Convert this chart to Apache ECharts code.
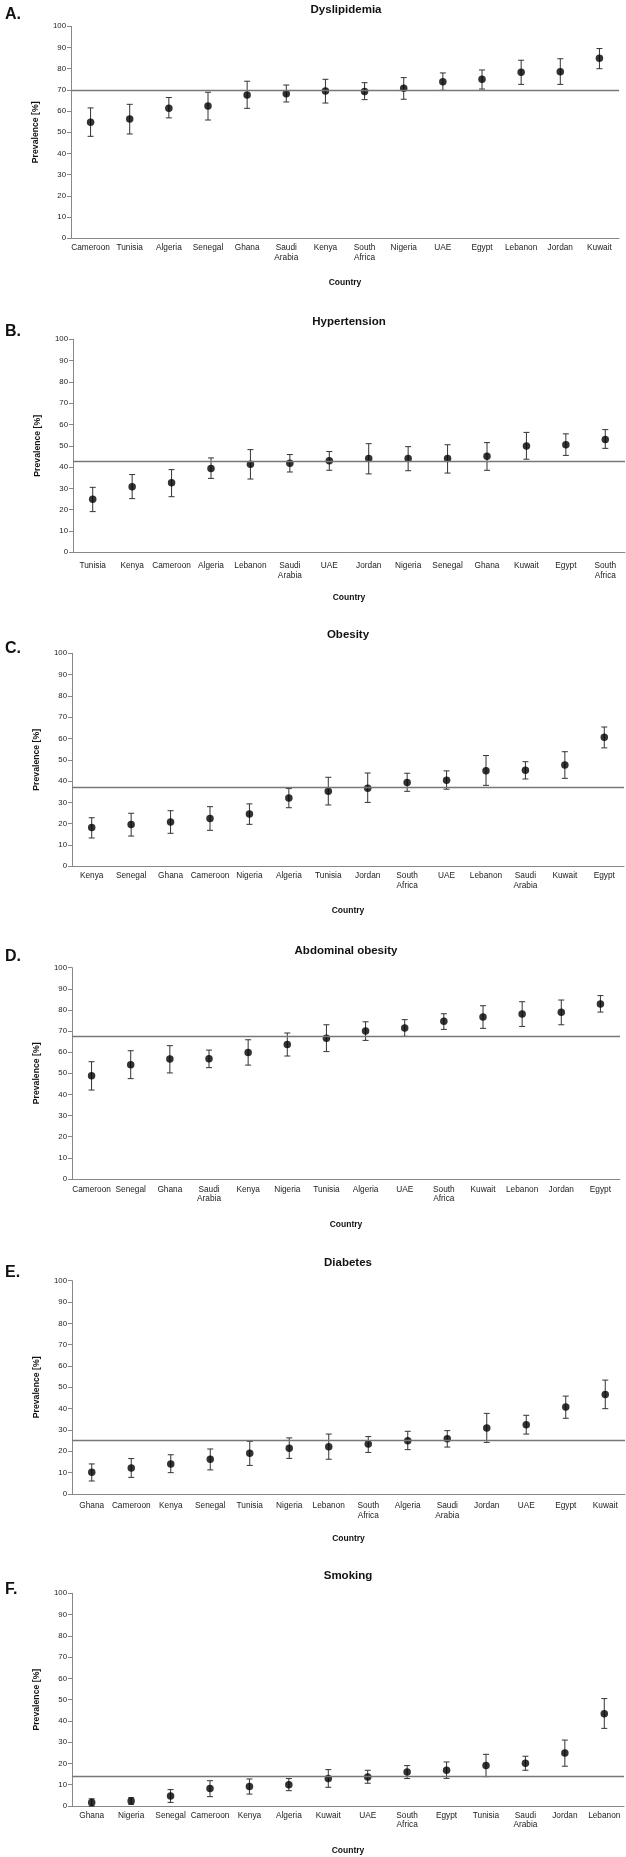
<!DOCTYPE html>
<html><head><meta charset="utf-8">
<script src="https://cdn.jsdelivr.net/npm/echarts@6/dist/echarts.min.js"></script>
<style>html,body{margin:0;padding:0;background:#fff}#c{width:626px;height:1857px}</style>
</head><body><div id="c"></div>
<script>
// ---- Data ----
const panelLetters = ['A.', 'B.', 'C.', 'D.', 'E.', 'F.'];
const panelTitles = ['Dyslipidemia', 'Hypertension', 'Obesity', 'Abdominal obesity', 'Diabetes', 'Smoking'];

const dysCountries = ['Cameroon','Tunisia','Algeria','Senegal','Ghana','Saudi Arabia','Kenya','South Africa','Nigeria','UAE','Egypt','Lebanon','Jordan','Kuwait'];
const dysValues = [54.7,56.3,61.3,62.4,67.6,68.2,69.5,69.3,70.8,73.9,75.0,78.3,78.6,84.9];
const dysLow    = [48.1,49.2,56.8,55.8,61.3,64.3,63.8,65.4,65.6,69.8,70.4,72.6,72.6,80.0];
const dysHigh   = [61.5,63.2,66.4,68.9,74.1,72.3,75.0,73.4,75.8,78.0,79.4,84.0,84.7,89.5];
const dysPooled = 69.8;

const htnCountries = ['Tunisia','Kenya','Cameroon','Algeria','Lebanon','Saudi Arabia','UAE','Jordan','Nigeria','Senegal','Ghana','Kuwait','Egypt','South Africa'];
const htnValues = [24.9,30.8,32.6,39.4,41.3,41.8,43.0,44.0,44.0,44.0,45.1,49.9,50.5,53.0];
const htnLow    = [19.1,25.2,26.1,34.7,34.4,37.7,38.5,36.8,38.3,37.2,38.5,43.7,45.5,48.8];
const htnHigh   = [30.5,36.5,38.8,44.3,48.2,45.9,47.3,51.0,49.6,50.5,51.5,56.3,55.6,57.6];
const htnPooled = 42.7;

const obCountries = ['Kenya','Senegal','Ghana','Cameroon','Nigeria','Algeria','Tunisia','Jordan','South Africa','UAE','Lebanon','Saudi Arabia','Kuwait','Egypt'];
const obValues = [18.2,19.6,20.8,22.5,24.6,32.1,35.2,36.6,39.4,40.4,44.9,45.1,47.6,60.6];
const obLow    = [13.3,14.2,15.5,16.9,19.7,27.5,28.8,30.0,35.2,36.2,38.0,41.0,41.3,55.6];
const obHigh   = [22.8,24.9,26.1,28.0,29.3,36.5,41.8,43.8,43.7,44.8,52.0,49.1,53.8,65.4];
const obPooled = 37.1;

const abCountries = ['Cameroon','Senegal','Ghana','Saudi Arabia','Kenya','Nigeria','Tunisia','Algeria','UAE','South Africa','Kuwait','Lebanon','Jordan','Egypt'];
const abValues = [48.9,54.1,56.8,56.9,59.9,63.7,66.6,70.0,71.5,74.6,76.7,78.1,78.9,82.8];
const abLow    = [42.1,47.5,50.2,52.7,53.9,58.2,60.3,65.6,67.5,70.8,71.3,72.2,73.0,79.0];
const abHigh   = [55.5,60.7,63.1,61.0,65.9,69.1,73.0,74.4,75.4,78.2,82.0,83.9,84.7,86.8];
const abPooled = 67.5;

const diaCountries = ['Ghana','Cameroon','Kenya','Senegal','Tunisia','Nigeria','Lebanon','South Africa','Algeria','Saudi Arabia','Jordan','UAE','Egypt','Kuwait'];
const diaValues = [10.2,12.2,14.1,16.3,19.1,21.4,22.2,23.4,25.0,25.9,30.9,32.5,40.8,46.7];
const diaLow    = [6.1,7.8,10.0,11.3,13.4,16.7,16.3,19.5,20.8,22.0,24.2,28.1,35.5,40.0];
const diaHigh   = [14.1,16.6,18.4,21.1,24.7,26.3,28.1,26.9,29.4,29.7,37.8,36.9,45.9,53.4];
const diaPooled = 25.2;

const smkCountries = ['Ghana','Nigeria','Senegal','Cameroon','Kenya','Algeria','Kuwait','UAE','South Africa','Egypt','Tunisia','Saudi Arabia','Jordan','Lebanon'];
const smkValues = [1.7,2.4,4.7,8.2,9.2,10.0,12.9,13.6,16.0,16.8,19.0,20.1,24.9,43.4];
const smkLow    = [0.0,0.8,1.7,4.4,5.6,7.2,8.8,10.7,12.9,13.0,13.8,16.8,18.7,36.5];
const smkHigh   = [3.4,3.9,7.7,11.9,12.7,12.9,17.1,16.8,19.0,20.7,24.3,23.4,31.0,50.5];
const smkPooled = 14.1;

const yTicks = [0,10,20,30,40,50,60,70,80,90,100];

const panels = [
  {cats: dysCountries, v: dysValues, lo: dysLow, hi: dysHigh, pooled: dysPooled},
  {cats: htnCountries, v: htnValues, lo: htnLow, hi: htnHigh, pooled: htnPooled},
  {cats: obCountries,  v: obValues,  lo: obLow,  hi: obHigh,  pooled: obPooled},
  {cats: abCountries,  v: abValues,  lo: abLow,  hi: abHigh,  pooled: abPooled},
  {cats: diaCountries, v: diaValues, lo: diaLow, hi: diaHigh, pooled: diaPooled},
  {cats: smkCountries, v: smkValues, lo: smkLow, hi: smkHigh, pooled: smkPooled}
];

// ---- Layout ----
const layout = [
  {left: 71, right: 619, top: 26.3,   height: 212,   tx: 346, ty: 10,     ly: 8,    labGap: 5,  country: 278},
  {left: 73, right: 625, top: 339.3,  height: 213,   tx: 349, ty: 322.7,  ly: 325,  labGap: 9,  country: 593},
  {left: 72, right: 624, top: 653.3,  height: 213,   tx: 348, ty: 635,    ly: 642,  labGap: 5,  country: 906.5},
  {left: 72, right: 620, top: 967.7,  height: 211.3, tx: 346, ty: 951,    ly: 950,  labGap: 5.5,country: 1220},
  {left: 72, right: 625, top: 1280.7, height: 213.3, tx: 348, ty: 1263.7, ly: 1266, labGap: 7,  country: 1534},
  {left: 72, right: 624, top: 1593.3, height: 212.7, tx: 348, ty: 1576.7, ly: 1583, labGap: 4.5,country: 1846}
];

const FONT = '"Liberation Sans", Arial, sans-serif';
const grids = [], xAxes = [], yAxes = [], series = [], titles = [];

panels.forEach((p, i) => {
  const L = layout[i];
  grids.push({left: L.left, top: L.top, width: L.right - L.left, height: L.height, containLabel: false});
  xAxes.push({
    type: 'category', gridIndex: i, data: p.cats, boundaryGap: true,
    name: 'Country', nameLocation: 'middle', nameGap: L.country - (L.top + L.height),
    nameTextStyle: {fontFamily: FONT, fontWeight: 'bold', fontSize: 8.5, color: '#111'},
    axisLine: {lineStyle: {color: '#888', width: 1}},
    axisTick: {alignWithLabel: true, interval: 0, length: 4, lineStyle: {color: '#888'}},
    axisLabel: {interval: 0, margin: L.labGap, fontFamily: FONT, fontSize: 8.3, color: '#222', lineHeight: 9.5,
      formatter: v => v.replace(' ', '\n')},
    splitLine: {show: false}
  });
  yAxes.push({
    type: 'value', gridIndex: i, min: 0, max: 100, interval: 10,
    name: 'Prevalence [%]', nameLocation: 'middle', nameGap: 31, nameRotate: 90,
    nameTextStyle: {fontFamily: FONT, fontWeight: 'bold', fontSize: 8.7, color: '#111'},
    axisLine: {show: true, lineStyle: {color: '#888', width: 1}},
    axisTick: {show: true, length: 4, lineStyle: {color: '#888'}},
    axisLabel: {margin: 5, fontFamily: FONT, fontSize: 7.8, color: '#222',
      formatter: v => yTicks.includes(v) ? String(v) : ''},
    splitLine: {show: false}
  });
  titles.push({text: panelTitles[i], left: L.tx, top: L.ty - 6.5, textAlign: 'center', padding: 0,
    textStyle: {fontFamily: FONT, fontWeight: 'bold', fontSize: 11.5, color: '#111'}});
  titles.push({text: panelLetters[i], left: 5, top: L.ly - 1, padding: 0,
    textStyle: {fontFamily: FONT, fontWeight: 'bold', fontSize: 16, color: '#111'}});

  // error bars
  series.push({
    type: 'custom', xAxisIndex: i, yAxisIndex: i, z: 3,
    data: p.cats.map((c, k) => [k, p.lo[k], p.hi[k]]),
    renderItem: (params, api) => {
      const x = api.value(0);
      const lo = api.coord([x, api.value(1)]);
      const hi = api.coord([x, api.value(2)]);
      const w = 3;
      const st = {stroke: '#333', lineWidth: 1};
      return {type: 'group', children: [
        {type: 'line', shape: {x1: lo[0], y1: lo[1], x2: hi[0], y2: hi[1]}, style: st},
        {type: 'line', shape: {x1: lo[0]-w, y1: lo[1], x2: lo[0]+w, y2: lo[1]}, style: st},
        {type: 'line', shape: {x1: hi[0]-w, y1: hi[1], x2: hi[0]+w, y2: hi[1]}, style: st}
      ]};
    },
    silent: true
  });
  // points + pooled line
  series.push({
    type: 'scatter', xAxisIndex: i, yAxisIndex: i, z: 4,
    data: p.v, symbol: 'circle', symbolSize: 7.5,
    itemStyle: {color: '#000'},
    markLine: {silent: true, symbol: 'none', label: {show: false},
      lineStyle: {color: '#777', width: 1.3, type: 'solid'},
      data: [{yAxis: p.pooled}]},
    silent: true
  });
});

const chart = echarts.init(document.getElementById('c'), null, {renderer: 'canvas'});
chart.setOption({
  animation: false,
  backgroundColor: '#fff',
  title: titles,
  grid: grids, xAxis: xAxes, yAxis: yAxes, series: series
});
</script>
</body></html>
